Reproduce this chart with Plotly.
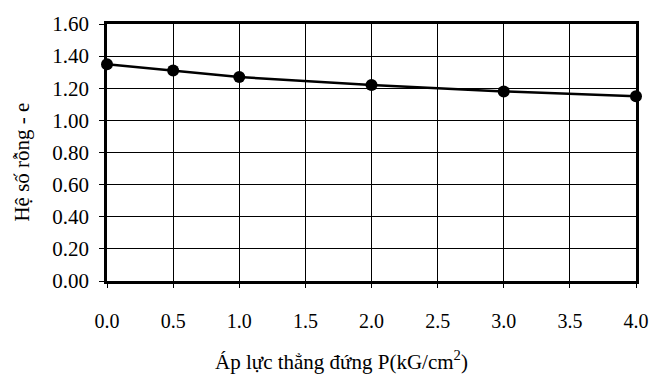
import plotly.graph_objects as go

# Void ratio vs vertical pressure
pressure = [0.0, 0.5, 1.0, 2.0, 3.0, 4.0]
void_ratio = [1.35, 1.31, 1.27, 1.22, 1.18, 1.15]

x_ticks = [0.0, 0.5, 1.0, 1.5, 2.0, 2.5, 3.0, 3.5, 4.0]
y_ticks = [0.0, 0.2, 0.4, 0.6, 0.8, 1.0, 1.2, 1.4, 1.6]

serif = "Liberation Serif, Times New Roman, serif"

fig = go.Figure()
fig.add_trace(go.Scatter(
    x=pressure, y=void_ratio,
    mode="lines+markers",
    line=dict(color="black", width=2.5),
    marker=dict(color="black", size=12),
    cliponaxis=False,
    showlegend=False,
))

fig.update_layout(
    width=664, height=378,
    margin=dict(l=107, r=28, t=20, b=97),
    paper_bgcolor="white", plot_bgcolor="white",
    font=dict(family=serif, color="black"),
    xaxis=dict(
        range=[0, 4], tickvals=x_ticks,
        ticktext=[f"{v:.1f}" for v in x_ticks],
        showgrid=True, gridcolor="black", gridwidth=1,
        showline=True, linecolor="black", linewidth=2.5, mirror=True,
        ticks="outside", ticklen=4, tickcolor="black",
        tickfont=dict(size=20, family=serif),
        ticklabelstandoff=16,
        zeroline=False,
    ),
    yaxis=dict(
        range=[0, 1.6], tickvals=y_ticks,
        ticktext=[f"{v:.2f}" for v in y_ticks],
        showgrid=True, gridcolor="black", gridwidth=1,
        showline=True, linecolor="black", linewidth=2.5, mirror=True,
        ticks="outside", ticklen=5, tickcolor="black",
        tickfont=dict(size=21, family=serif),
        ticklabelstandoff=6,
        zeroline=False,
    ),
    annotations=[
        dict(text="Hệ số rỗng - e", xref="paper", yref="paper",
             x=-0.161, y=0.464, xanchor="center", yanchor="middle",
             textangle=-90, showarrow=False,
             font=dict(size=21, family=serif)),
        dict(text="Áp lực thẳng đứng P(kG/cm<sup>2</sup>)", xref="paper", yref="paper",
             x=0.444, y=-0.31, xanchor="center", yanchor="middle",
             showarrow=False, font=dict(size=21, family=serif)),
    ],
)

fig.write_html("out.html")
